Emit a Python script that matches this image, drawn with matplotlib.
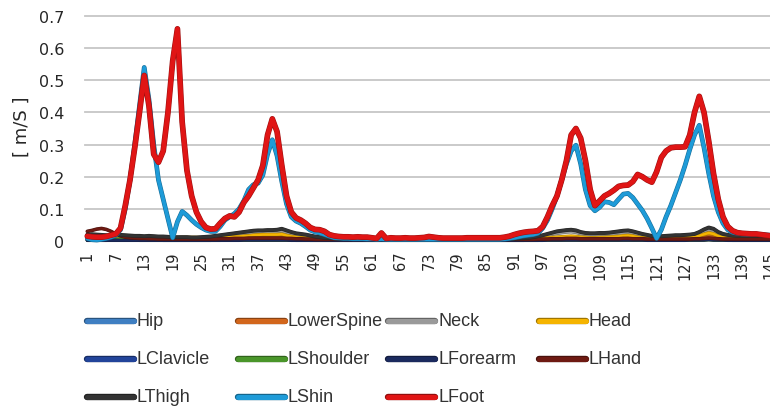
import matplotlib
matplotlib.use("Agg")
import matplotlib.pyplot as plt
from matplotlib.lines import Line2D
import matplotlib.patheffects as pe
import matplotlib.colors as mcolors

# Frame numbers 1..147
frames = list(range(1, 148))
tick_frames = list(range(1, 148, 6))

hip = [
    0.004, 0.004, 0.005, 0.005, 0.004, 0.004, 0.005, 0.006, 0.006, 0.005,
    0.005, 0.004, 0.004, 0.004, 0.004, 0.003, 0.003, 0.003, 0.003, 0.003,
    0.003, 0.003, 0.003, 0.003, 0.003, 0.004, 0.004, 0.004, 0.005, 0.005,
    0.005, 0.006, 0.006, 0.006, 0.006, 0.007, 0.007, 0.007, 0.007, 0.007,
    0.007, 0.007, 0.006, 0.006, 0.005, 0.005, 0.004, 0.004, 0.004, 0.003,
    0.003, 0.003, 0.003, 0.003, 0.003, 0.003, 0.003, 0.003, 0.003, 0.003,
    0.003, 0.003, 0.003, 0.003, 0.003, 0.003, 0.003, 0.003, 0.003, 0.003,
    0.003, 0.003, 0.003, 0.003, 0.003, 0.003, 0.003, 0.003, 0.003, 0.003,
    0.003, 0.003, 0.003, 0.003, 0.003, 0.003, 0.003, 0.003, 0.003, 0.003,
    0.003, 0.003, 0.004, 0.004, 0.004, 0.005, 0.005, 0.006, 0.006, 0.007,
    0.007, 0.008, 0.008, 0.008, 0.007, 0.007, 0.006, 0.006, 0.006, 0.006,
    0.007, 0.007, 0.007, 0.008, 0.008, 0.007, 0.007, 0.006, 0.006, 0.005,
    0.005, 0.005, 0.005, 0.005, 0.006, 0.006, 0.006, 0.006, 0.007, 0.008,
    0.009, 0.010, 0.009, 0.008, 0.007, 0.006, 0.006, 0.005, 0.005, 0.005,
    0.005, 0.005, 0.005, 0.005, 0.005, 0.005, 0.005,
]

lower_spine = [
    0.008, 0.008, 0.009, 0.009, 0.008, 0.008, 0.008, 0.009, 0.009, 0.008,
    0.008, 0.007, 0.007, 0.007, 0.006, 0.006, 0.006, 0.006, 0.006, 0.006,
    0.006, 0.006, 0.006, 0.006, 0.006, 0.007, 0.007, 0.007, 0.008, 0.008,
    0.009, 0.010, 0.010, 0.011, 0.011, 0.012, 0.012, 0.012, 0.012, 0.012,
    0.012, 0.012, 0.011, 0.010, 0.009, 0.008, 0.007, 0.006, 0.006, 0.005,
    0.005, 0.005, 0.005, 0.004, 0.004, 0.004, 0.004, 0.004, 0.004, 0.004,
    0.004, 0.004, 0.004, 0.004, 0.004, 0.004, 0.004, 0.004, 0.004, 0.004,
    0.004, 0.004, 0.004, 0.004, 0.004, 0.004, 0.004, 0.004, 0.004, 0.004,
    0.004, 0.004, 0.004, 0.004, 0.004, 0.004, 0.004, 0.004, 0.004, 0.004,
    0.004, 0.005, 0.005, 0.005, 0.006, 0.006, 0.007, 0.008, 0.009, 0.010,
    0.010, 0.011, 0.011, 0.011, 0.010, 0.010, 0.009, 0.009, 0.009, 0.009,
    0.010, 0.010, 0.010, 0.011, 0.011, 0.010, 0.010, 0.009, 0.008, 0.008,
    0.007, 0.007, 0.007, 0.008, 0.008, 0.008, 0.008, 0.009, 0.009, 0.010,
    0.012, 0.014, 0.013, 0.011, 0.009, 0.008, 0.008, 0.007, 0.007, 0.007,
    0.007, 0.007, 0.007, 0.007, 0.007, 0.007, 0.007,
]

neck = [
    0.016, 0.017, 0.016, 0.016, 0.015, 0.014, 0.015, 0.016, 0.015, 0.014,
    0.013, 0.013, 0.012, 0.013, 0.012, 0.011, 0.011, 0.010, 0.010, 0.010,
    0.010, 0.010, 0.009, 0.009, 0.010, 0.011, 0.012, 0.013, 0.015, 0.017,
    0.018, 0.020, 0.021, 0.023, 0.025, 0.026, 0.027, 0.027, 0.028, 0.028,
    0.029, 0.031, 0.027, 0.023, 0.020, 0.018, 0.016, 0.014, 0.012, 0.010,
    0.008, 0.007, 0.007, 0.006, 0.006, 0.006, 0.005, 0.005, 0.005, 0.005,
    0.005, 0.005, 0.005, 0.005, 0.005, 0.005, 0.005, 0.005, 0.005, 0.005,
    0.005, 0.005, 0.005, 0.005, 0.005, 0.005, 0.005, 0.005, 0.005, 0.005,
    0.005, 0.005, 0.005, 0.005, 0.005, 0.005, 0.005, 0.005, 0.005, 0.005,
    0.006, 0.007, 0.008, 0.009, 0.010, 0.012, 0.015, 0.018, 0.021, 0.024,
    0.026, 0.028, 0.029, 0.027, 0.023, 0.021, 0.020, 0.020, 0.021, 0.021,
    0.022, 0.023, 0.025, 0.026, 0.027, 0.025, 0.022, 0.018, 0.016, 0.013,
    0.012, 0.012, 0.013, 0.014, 0.015, 0.015, 0.016, 0.017, 0.018, 0.023,
    0.030, 0.035, 0.031, 0.023, 0.018, 0.016, 0.014, 0.013, 0.013, 0.013,
    0.013, 0.013, 0.013, 0.013, 0.013, 0.013, 0.013,
]

head = [
    0.006, 0.006, 0.007, 0.007, 0.006, 0.006, 0.006, 0.007, 0.007, 0.007,
    0.007, 0.007, 0.007, 0.008, 0.008, 0.008, 0.008, 0.008, 0.009, 0.010,
    0.011, 0.011, 0.011, 0.011, 0.010, 0.010, 0.010, 0.010, 0.010, 0.011,
    0.012, 0.013, 0.014, 0.015, 0.016, 0.018, 0.019, 0.020, 0.020, 0.020,
    0.020, 0.021, 0.017, 0.014, 0.012, 0.010, 0.009, 0.008, 0.007, 0.006,
    0.005, 0.005, 0.005, 0.004, 0.004, 0.004, 0.004, 0.004, 0.004, 0.004,
    0.004, 0.004, 0.004, 0.004, 0.004, 0.004, 0.004, 0.004, 0.004, 0.004,
    0.004, 0.004, 0.004, 0.004, 0.004, 0.004, 0.004, 0.004, 0.004, 0.004,
    0.004, 0.004, 0.004, 0.004, 0.004, 0.004, 0.004, 0.004, 0.004, 0.004,
    0.004, 0.005, 0.005, 0.006, 0.007, 0.008, 0.009, 0.010, 0.011, 0.012,
    0.013, 0.014, 0.015, 0.014, 0.012, 0.011, 0.010, 0.010, 0.011, 0.011,
    0.012, 0.013, 0.014, 0.016, 0.017, 0.015, 0.012, 0.010, 0.009, 0.008,
    0.007, 0.007, 0.008, 0.008, 0.009, 0.009, 0.010, 0.011, 0.012, 0.016,
    0.021, 0.025, 0.022, 0.015, 0.011, 0.009, 0.008, 0.008, 0.008, 0.008,
    0.008, 0.008, 0.008, 0.008, 0.008, 0.008, 0.008,
]

l_clavicle = [
    0.003, 0.003, 0.003, 0.003, 0.003, 0.003, 0.003, 0.004, 0.004, 0.003,
    0.003, 0.003, 0.003, 0.003, 0.003, 0.003, 0.002, 0.002, 0.002, 0.002,
    0.002, 0.002, 0.002, 0.002, 0.002, 0.002, 0.002, 0.003, 0.003, 0.003,
    0.003, 0.003, 0.004, 0.004, 0.004, 0.004, 0.004, 0.004, 0.004, 0.004,
    0.004, 0.004, 0.004, 0.003, 0.003, 0.003, 0.003, 0.002, 0.002, 0.002,
    0.002, 0.002, 0.002, 0.002, 0.002, 0.002, 0.002, 0.002, 0.002, 0.002,
    0.002, 0.002, 0.002, 0.002, 0.002, 0.002, 0.002, 0.002, 0.002, 0.002,
    0.002, 0.002, 0.002, 0.002, 0.002, 0.002, 0.002, 0.002, 0.002, 0.002,
    0.002, 0.002, 0.002, 0.002, 0.002, 0.002, 0.002, 0.002, 0.002, 0.002,
    0.002, 0.002, 0.002, 0.003, 0.003, 0.003, 0.003, 0.004, 0.004, 0.004,
    0.004, 0.005, 0.005, 0.005, 0.004, 0.004, 0.004, 0.004, 0.004, 0.004,
    0.004, 0.004, 0.004, 0.005, 0.005, 0.004, 0.004, 0.004, 0.003, 0.003,
    0.003, 0.003, 0.003, 0.003, 0.003, 0.003, 0.003, 0.004, 0.004, 0.004,
    0.005, 0.006, 0.005, 0.004, 0.004, 0.003, 0.003, 0.003, 0.003, 0.003,
    0.003, 0.003, 0.003, 0.003, 0.003, 0.003, 0.003,
]

l_shoulder = [
    0.002, 0.002, 0.002, 0.002, 0.002, 0.003, 0.004, 0.006, 0.005, 0.004,
    0.003, 0.002, 0.002, 0.002, 0.002, 0.002, 0.002, 0.002, 0.002, 0.002,
    0.002, 0.002, 0.002, 0.002, 0.002, 0.002, 0.002, 0.002, 0.002, 0.003,
    0.003, 0.003, 0.003, 0.003, 0.003, 0.003, 0.003, 0.003, 0.003, 0.003,
    0.003, 0.003, 0.003, 0.003, 0.002, 0.002, 0.002, 0.002, 0.002, 0.002,
    0.002, 0.002, 0.002, 0.002, 0.002, 0.002, 0.002, 0.002, 0.002, 0.002,
    0.002, 0.002, 0.002, 0.002, 0.002, 0.002, 0.002, 0.002, 0.002, 0.002,
    0.002, 0.002, 0.002, 0.002, 0.002, 0.002, 0.002, 0.002, 0.002, 0.002,
    0.002, 0.002, 0.002, 0.002, 0.002, 0.002, 0.002, 0.002, 0.002, 0.002,
    0.002, 0.002, 0.002, 0.002, 0.002, 0.002, 0.003, 0.003, 0.003, 0.003,
    0.003, 0.003, 0.003, 0.003, 0.003, 0.003, 0.003, 0.003, 0.003, 0.003,
    0.003, 0.003, 0.003, 0.003, 0.003, 0.003, 0.003, 0.003, 0.003, 0.003,
    0.003, 0.004, 0.003, 0.003, 0.003, 0.003, 0.003, 0.003, 0.003, 0.003,
    0.003, 0.004, 0.003, 0.003, 0.003, 0.003, 0.002, 0.002, 0.002, 0.002,
    0.002, 0.002, 0.002, 0.002, 0.002, 0.002, 0.002,
]

l_forearm = [
    0.002, 0.002, 0.002, 0.002, 0.002, 0.002, 0.002, 0.002, 0.002, 0.002,
    0.002, 0.002, 0.002, 0.002, 0.002, 0.002, 0.002, 0.002, 0.002, 0.002,
    0.002, 0.002, 0.002, 0.002, 0.002, 0.002, 0.002, 0.002, 0.002, 0.002,
    0.002, 0.002, 0.002, 0.003, 0.003, 0.003, 0.003, 0.003, 0.003, 0.003,
    0.003, 0.003, 0.003, 0.002, 0.002, 0.002, 0.002, 0.002, 0.002, 0.002,
    0.002, 0.002, 0.002, 0.002, 0.002, 0.002, 0.002, 0.002, 0.002, 0.002,
    0.002, 0.002, 0.002, 0.002, 0.002, 0.002, 0.002, 0.002, 0.002, 0.002,
    0.002, 0.002, 0.002, 0.002, 0.002, 0.002, 0.002, 0.002, 0.002, 0.002,
    0.002, 0.002, 0.002, 0.002, 0.002, 0.002, 0.002, 0.002, 0.002, 0.002,
    0.002, 0.002, 0.002, 0.002, 0.002, 0.002, 0.002, 0.003, 0.003, 0.003,
    0.003, 0.003, 0.003, 0.003, 0.003, 0.003, 0.003, 0.003, 0.003, 0.003,
    0.003, 0.003, 0.003, 0.003, 0.003, 0.003, 0.003, 0.003, 0.002, 0.002,
    0.002, 0.002, 0.002, 0.002, 0.002, 0.002, 0.002, 0.003, 0.003, 0.003,
    0.003, 0.004, 0.003, 0.003, 0.003, 0.002, 0.002, 0.002, 0.002, 0.002,
    0.002, 0.002, 0.002, 0.002, 0.002, 0.002, 0.002,
]

l_hand = [
    0.030, 0.033, 0.037, 0.039, 0.036, 0.030, 0.022, 0.016, 0.012, 0.010,
    0.009, 0.008, 0.008, 0.007, 0.007, 0.006, 0.006, 0.006, 0.006, 0.006,
    0.006, 0.006, 0.006, 0.006, 0.006, 0.006, 0.006, 0.006, 0.007, 0.007,
    0.007, 0.008, 0.008, 0.008, 0.009, 0.009, 0.009, 0.009, 0.009, 0.009,
    0.009, 0.009, 0.008, 0.008, 0.007, 0.007, 0.006, 0.006, 0.005, 0.005,
    0.005, 0.005, 0.005, 0.005, 0.005, 0.005, 0.005, 0.005, 0.005, 0.005,
    0.005, 0.005, 0.005, 0.005, 0.005, 0.005, 0.005, 0.005, 0.005, 0.005,
    0.005, 0.005, 0.005, 0.005, 0.005, 0.005, 0.005, 0.005, 0.005, 0.005,
    0.005, 0.005, 0.005, 0.005, 0.005, 0.005, 0.005, 0.005, 0.005, 0.005,
    0.005, 0.005, 0.005, 0.005, 0.005, 0.006, 0.006, 0.006, 0.007, 0.007,
    0.007, 0.008, 0.008, 0.008, 0.007, 0.007, 0.007, 0.007, 0.007, 0.007,
    0.007, 0.007, 0.007, 0.008, 0.008, 0.007, 0.007, 0.007, 0.006, 0.006,
    0.006, 0.006, 0.006, 0.006, 0.006, 0.006, 0.006, 0.006, 0.007, 0.007,
    0.008, 0.009, 0.008, 0.007, 0.006, 0.006, 0.006, 0.006, 0.006, 0.006,
    0.006, 0.006, 0.006, 0.006, 0.006, 0.006, 0.006,
]

l_thigh = [
    0.020, 0.021, 0.020, 0.019, 0.018, 0.017, 0.018, 0.019, 0.018, 0.017,
    0.016, 0.016, 0.015, 0.016, 0.015, 0.014, 0.014, 0.013, 0.012, 0.012,
    0.012, 0.012, 0.011, 0.011, 0.012, 0.013, 0.014, 0.016, 0.018, 0.020,
    0.022, 0.024, 0.026, 0.028, 0.030, 0.032, 0.033, 0.033, 0.034, 0.034,
    0.035, 0.038, 0.033, 0.028, 0.024, 0.022, 0.020, 0.017, 0.014, 0.012,
    0.010, 0.009, 0.008, 0.007, 0.007, 0.007, 0.006, 0.006, 0.006, 0.006,
    0.006, 0.006, 0.006, 0.006, 0.006, 0.006, 0.006, 0.006, 0.006, 0.006,
    0.006, 0.006, 0.006, 0.006, 0.006, 0.006, 0.006, 0.006, 0.006, 0.006,
    0.006, 0.006, 0.006, 0.006, 0.006, 0.006, 0.006, 0.006, 0.006, 0.006,
    0.007, 0.008, 0.009, 0.010, 0.012, 0.015, 0.018, 0.022, 0.026, 0.030,
    0.032, 0.034, 0.035, 0.033, 0.028, 0.025, 0.024, 0.024, 0.025, 0.025,
    0.026, 0.028, 0.030, 0.032, 0.033, 0.030, 0.026, 0.022, 0.019, 0.016,
    0.015, 0.015, 0.016, 0.017, 0.018, 0.018, 0.019, 0.020, 0.022, 0.028,
    0.036, 0.042, 0.038, 0.028, 0.022, 0.019, 0.017, 0.016, 0.016, 0.016,
    0.016, 0.016, 0.016, 0.016, 0.016, 0.016, 0.016,
]

l_shin = [
    0.008, 0.004, 0.003, 0.005, 0.008, 0.012, 0.018, 0.035, 0.100, 0.190,
    0.300, 0.420, 0.540, 0.440, 0.300, 0.190, 0.130, 0.070, 0.010, 0.060,
    0.092, 0.080, 0.065, 0.052, 0.042, 0.034, 0.030, 0.030, 0.045, 0.065,
    0.075, 0.085, 0.100, 0.125, 0.160, 0.175, 0.180, 0.205, 0.270, 0.315,
    0.265, 0.185, 0.115, 0.075, 0.062, 0.055, 0.045, 0.034, 0.028, 0.025,
    0.020, 0.015, 0.010, 0.009, 0.008, 0.008, 0.007, 0.007, 0.007, 0.006,
    0.006, 0.005, 0.006, 0.005, 0.005, 0.005, 0.005, 0.005, 0.005, 0.005,
    0.005, 0.005, 0.005, 0.005, 0.005, 0.005, 0.005, 0.005, 0.005, 0.005,
    0.005, 0.005, 0.005, 0.005, 0.005, 0.005, 0.005, 0.005, 0.006, 0.008,
    0.010, 0.013, 0.016, 0.018, 0.020, 0.024, 0.040, 0.065, 0.100, 0.140,
    0.190, 0.240, 0.280, 0.298, 0.240, 0.160, 0.110, 0.094, 0.105, 0.122,
    0.120, 0.113, 0.130, 0.146, 0.148, 0.135, 0.115, 0.095, 0.070, 0.040,
    0.008, 0.035, 0.075, 0.110, 0.150, 0.190, 0.235, 0.285, 0.330, 0.360,
    0.290, 0.210, 0.140, 0.090, 0.055, 0.035, 0.027, 0.024, 0.022, 0.021,
    0.021, 0.021, 0.020, 0.019, 0.018, 0.017, 0.016,
]

l_foot = [
    0.015, 0.013, 0.012, 0.012, 0.014, 0.018, 0.022, 0.040, 0.110, 0.190,
    0.290, 0.400, 0.515, 0.420, 0.270, 0.245, 0.280, 0.400, 0.560, 0.660,
    0.370, 0.220, 0.140, 0.090, 0.060, 0.042, 0.037, 0.038, 0.055, 0.070,
    0.078, 0.075, 0.090, 0.120, 0.140, 0.165, 0.190, 0.235, 0.330, 0.380,
    0.340, 0.235, 0.140, 0.090, 0.072, 0.065, 0.055, 0.042, 0.036, 0.035,
    0.030, 0.020, 0.016, 0.014, 0.013, 0.013, 0.012, 0.013, 0.012, 0.012,
    0.010, 0.008, 0.025, 0.008, 0.010, 0.009, 0.009, 0.010, 0.009, 0.009,
    0.010, 0.011, 0.014, 0.012, 0.010, 0.009, 0.009, 0.009, 0.009, 0.009,
    0.010, 0.010, 0.010, 0.010, 0.010, 0.010, 0.010, 0.010, 0.012, 0.015,
    0.020, 0.024, 0.027, 0.029, 0.030, 0.032, 0.045, 0.075, 0.110, 0.140,
    0.190, 0.250, 0.330, 0.350, 0.320, 0.250, 0.160, 0.110, 0.125, 0.140,
    0.148, 0.158, 0.170, 0.173, 0.174, 0.185, 0.207, 0.200, 0.190, 0.183,
    0.215, 0.260, 0.280, 0.290, 0.292, 0.292, 0.293, 0.330, 0.400, 0.450,
    0.400, 0.310, 0.210, 0.130, 0.075, 0.045, 0.032, 0.026, 0.024, 0.023,
    0.022, 0.022, 0.020, 0.018, 0.016, 0.015, 0.014,
]

series_names = ["Hip", "LowerSpine", "Neck", "Head",
                "LClavicle", "LShoulder", "LForearm", "LHand",
                "LThigh", "LShin", "LFoot"]
series_values = [hip, lower_spine, neck, head,
                 l_clavicle, l_shoulder, l_forearm, l_hand,
                 l_thigh, l_shin, l_foot]
series_colors = ["#3F7FC2", "#D2661C", "#9A9A9A", "#F5B400",
                 "#22449A", "#4A962A", "#1B2A5E", "#6E1A12",
                 "#333333", "#1E9BD8", "#E01515"]
series_widths = [1.8, 1.8, 1.8, 1.8, 1.6, 1.6, 1.6, 1.8, 2.0, 2.6, 3.3]

W, H = 770, 410
fig = plt.figure(figsize=(W / 100, H / 100), dpi=100)

# plot area in pixels: left edge 85, x-step 4.744 px per frame, zero line at y=242
x_lo, x_hi = 0.515, 148.0
step = 4.744
left_px, zero_px, top_px = 85, 242, 17
ax = fig.add_axes([left_px / W, (H - zero_px) / H,
                   (x_hi - x_lo) * step / W, (zero_px - top_px) / H])
ax.set_xlim(x_lo, x_hi)
ax.set_ylim(0, 0.7)

for y in [0.1, 0.2, 0.3, 0.4, 0.5, 0.6, 0.7]:
    ax.axhline(y, color="#C6C6C6", lw=1.3, zorder=0, clip_on=False)
ax.axhline(0, color="#BFBFBF", lw=1.0, zorder=0)

for name, vals, col, lw in zip(series_names, series_values, series_colors, series_widths):
    dark = tuple(c * 0.7 for c in mcolors.to_rgb(col))
    ax.plot(frames, vals, color=col, lw=lw, solid_joinstyle="round",
            solid_capstyle="round", clip_on=False,
            path_effects=[pe.Stroke(linewidth=lw + 0.8, foreground=dark),
                          pe.Normal()])

for sp in ax.spines.values():
    sp.set_visible(False)

ax.set_yticks([0, 0.1, 0.2, 0.3, 0.4, 0.5, 0.6, 0.7])
ax.set_yticklabels(["0", "0.1", "0.2", "0.3", "0.4", "0.5", "0.6", "0.7"])
ax.set_xticks(tick_frames)
ax.set_xticklabels([str(t) for t in tick_frames], rotation=90, va="top", ha="center")
ax.tick_params(axis="y", length=0, pad=15, labelsize=11.5, labelcolor="#262626")
ax.tick_params(axis="x", length=0, pad=7, labelsize=10.5, labelcolor="#262626")

fig.text(22 / W, 1 - 127 / H, "[ m/S ]", rotation=90, ha="center", va="center",
         fontsize=13, color="#262626")

# legend laid out as a 4-column grid below the plot
legend_font = ["Liberation Sans", "DejaVu Sans"]
for k, (name, col) in enumerate(zip(series_names, series_colors)):
    row, colm = divmod(k, 4)
    x0 = 87 + colm * 150.5
    yc = 322 + row * 38
    dark = tuple(c * 0.65 for c in mcolors.to_rgb(col))
    fig.add_artist(Line2D([x0 / W, (x0 + 47) / W], [1 - yc / H, 1 - yc / H],
                          transform=fig.transFigure, color=col, lw=3.6,
                          solid_capstyle="round",
                          path_effects=[pe.Stroke(linewidth=4.6, foreground=dark),
                                        pe.Normal()]))
    fig.text((x0 + 50) / W, 1 - yc / H, name, ha="left", va="center",
             fontsize=13, family=legend_font, color="#333333")

fig.savefig("out.png", dpi=100)
